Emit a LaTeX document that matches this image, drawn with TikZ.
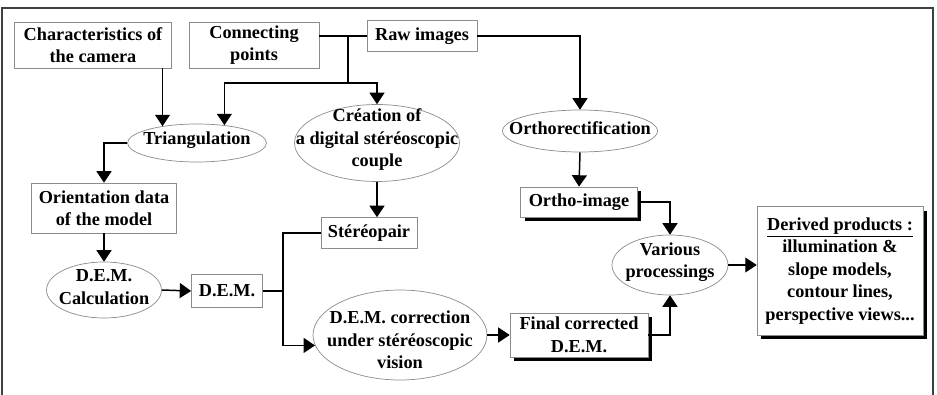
\documentclass[tikz,border=0pt]{standalone}
\usepackage{fontspec}
\setmainfont{Liberation Serif}
\usetikzlibrary{shapes,shadows,arrows.meta}
\tikzstyle{flowbox}=[rectangle,draw=black!45,fill=white,inner sep=0pt,align=center]
\tikzstyle{flowoval}=[ellipse,draw=black!45,fill=white,inner sep=0pt]
\tikzstyle{ovaltext}=[align=center,inner sep=0pt,yshift=0.06cm]
\tikzstyle{shadowed}=[drop shadow={shadow xshift=0.08cm,shadow yshift=-0.08cm,fill=black,opacity=1}]
\tikzstyle{edge}=[draw,line width=0.85pt,-{Triangle[length=6.5pt,width=8.5pt]}]
\tikzstyle{plainedge}=[draw,line width=0.85pt]

\begin{document}
\begin{tikzpicture}[x=0.02cm,y=-0.02cm,font=\fontsize{10.4}{12.8}\selectfont\bfseries]
    \useasboundingbox (0,0) rectangle (937,395);
    % frame
    \draw[draw=black!75,line width=0.8pt] (2,395) |- (933,8) -- (933,395);

    % top row
    \node[flowbox,minimum width=3.14cm,minimum height=0.92cm] (Cam) at (93,45) {Characteristics of\\the camera};
    \node[flowbox,minimum width=2.6cm,minimum height=0.92cm] (Pts) at (254,45) {Connecting\\points};
    \node[flowbox,minimum width=2.2cm,minimum height=0.62cm] (Raw) at (422,36) {Raw images};

    % ellipses
    \node[flowoval,minimum width=2.78cm,minimum height=0.76cm,label={[ovaltext]center:Triangulation}] (Tri) at (197,143) {};
    \node[flowoval,minimum width=3.3cm,minimum height=1.54cm,label={[ovaltext]center:Création of\\a digital stéréoscopic\\couple}] (Cre) at (377,143) {};
    \node[flowoval,minimum width=3.1cm,minimum height=0.84cm,label={[ovaltext]center:Orthorectification}] (Ort) at (580,131) {};
    \node[flowoval,minimum width=2.3cm,minimum height=1.12cm,label={[ovaltext]center:D.E.M.\\Calculation}] (Calc) at (104,290) {};
    \node[flowoval,minimum width=3.48cm,minimum height=1.8cm,label={[ovaltext,yshift=-0.16cm]center:D.E.M. correction\\under stéréoscopic\\vision}] (Corr) at (400,335) {};
    \node[flowoval,minimum width=2.32cm,minimum height=1.2cm,label={[ovaltext]center:Various\\processings}] (Var) at (670,265) {};

    % boxes
    \node[flowbox,minimum width=2.9cm,minimum height=1.0cm] (Ori) at (104,208) {Orientation data\\of the model};
    \node[flowbox,minimum width=1.42cm,minimum height=0.66cm] (Dem) at (227,291) {D.E.M.};
    \node[flowbox,minimum width=1.92cm,minimum height=0.62cm] (Ster) at (369,233) {Stéréopair};
    \node[flowbox,shadowed,minimum width=2.34cm,minimum height=0.6cm] (OrtImg) at (579,202) {Ortho-image};
    \node[flowbox,shadowed,minimum width=2.76cm,minimum height=0.88cm] (Fin) at (579,335) {Final corrected\\D.E.M.};
    \node[flowbox,shadowed,minimum width=3.32cm,minimum height=2.58cm] (Der) at (840,271) {\underline{Derived products :}\\illumination \&\\slope models,\\contour lines,\\perspective views...};

    % connectors
    \coordinate (J) at (348,83);
    \coordinate (S) at (283,291);
    \path[plainedge] (Pts.east |- Raw.west) -- (Raw.west);
    \path[plainedge] (J |- Raw.west) -- (J);
    \path[edge] (J) -| (Tri.33);
    \path[edge] (J) -| (Cre.north);
    \path[edge] (Cam.south -| Tri.154) -- (Tri.154);
    \path[edge] (Raw.east) -| (Ort.north);
    \path[edge] (Tri.west) -| (Ori.north);
    \path[edge] (Ori.south) -- (Calc.north);
    \path[edge] (Calc.east) -- (Dem.west);
    \path[plainedge] (Dem.east) -- (S);
    \path[plainedge] (S) |- (Ster.west);
    \path[edge] (S) |- (Corr.187);
    \path[edge] (Cre.south) -- (Cre.south |- Ster.north);
    \path[edge] (Ort.south) -- (OrtImg.north);
    \path[edge] (Corr.east) -- (Fin.west);
    \path[edge] (Fin.east) -| (Var.south);
    \path[edge] (OrtImg.east) -| (Var.north);
    \path[edge] (Var.east) -- (Var.east -| Der.west);
\end{tikzpicture}
\end{document}
